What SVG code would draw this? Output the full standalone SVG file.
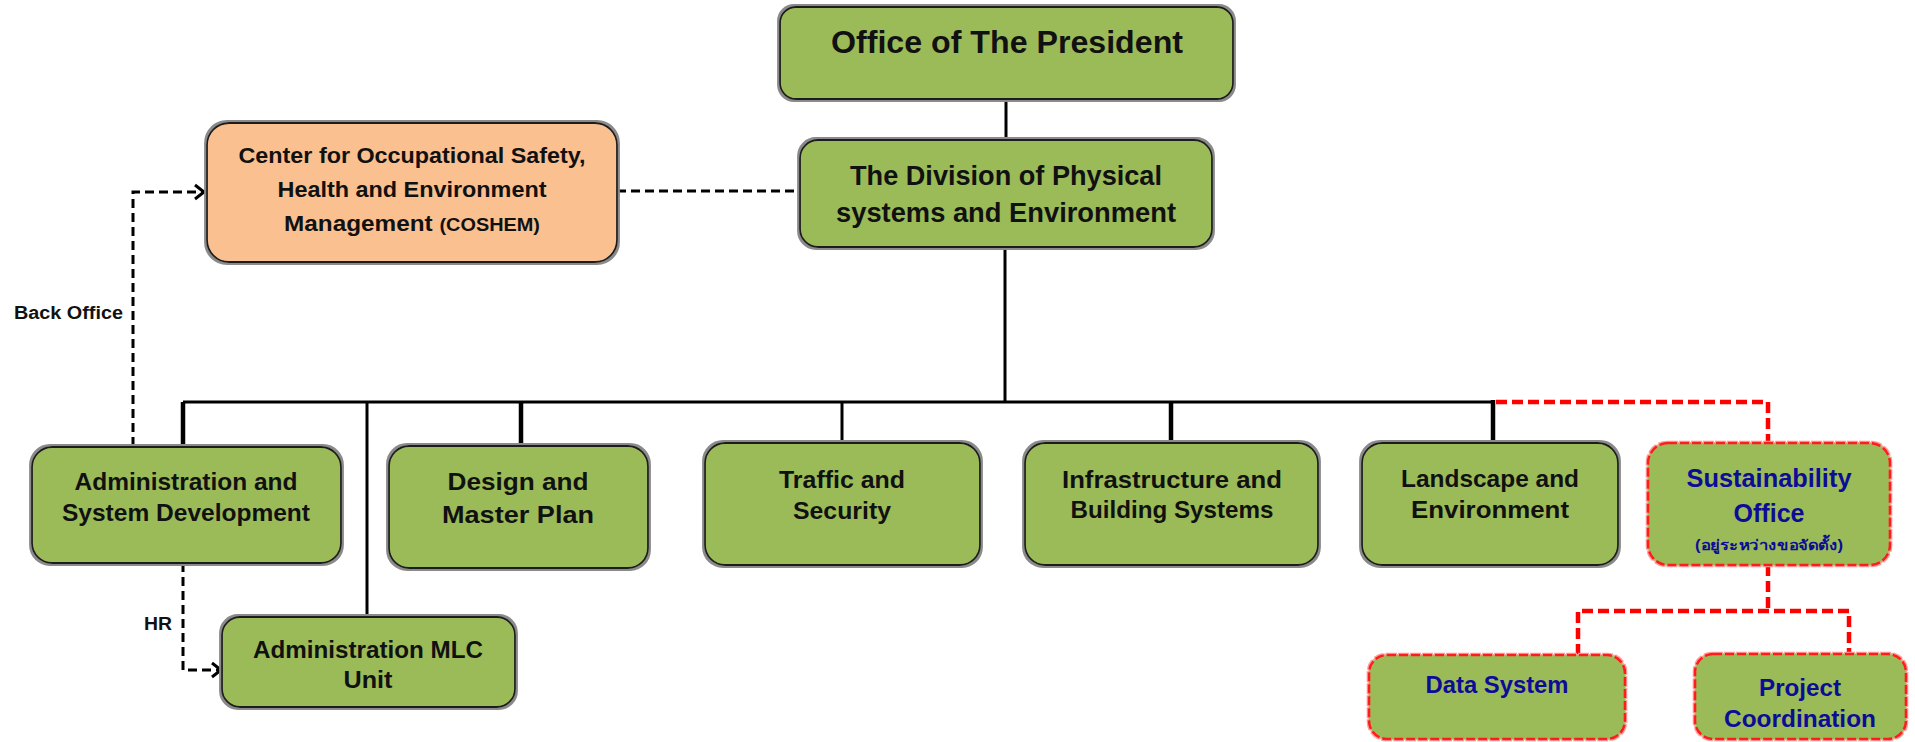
<svg xmlns="http://www.w3.org/2000/svg" width="1915" height="742" viewBox="0 0 1915 742">
  <style>
    .box { fill: #9bbb59; stroke: #1f1f1f; stroke-width: 1.8; filter: url(#halo); }
    .orange { fill: #fac090; }
    .pend { fill: #9bbb59; stroke: #ff1a1a; stroke-width: 2.6; stroke-dasharray: 9 3; filter: url(#pinkhalo); }
    .t { font-family: "Liberation Sans", Arial, sans-serif; font-weight: bold; fill: #111; text-anchor: middle; }
    .blue { fill: #0c0c96; }
    .lbl { font-family: "Liberation Sans", Arial, sans-serif; font-weight: bold; font-size: 18px; fill: #111; }
    .solid { fill: none; stroke: #000; stroke-width: 3; }
    .thick { fill: none; stroke: #000; stroke-width: 4.5; }
    .dash { fill: none; stroke: #000; stroke-width: 3; stroke-dasharray: 9 5; }
    .rdash { fill: none; stroke: #ff0000; stroke-width: 4.5; stroke-dasharray: 11 5; }
  </style>
  <defs>
    <filter id="halo" x="-5%" y="-5%" width="110%" height="110%">
      <feMorphology in="SourceAlpha" operator="dilate" radius="1.6" result="d"/>
      <feFlood flood-color="#8a8a8a"/>
      <feComposite in2="d" operator="in" result="h"/>
      <feMerge><feMergeNode in="h"/><feMergeNode in="SourceGraphic"/></feMerge>
    </filter>
    <filter id="pinkhalo" x="-5%" y="-5%" width="110%" height="110%">
      <feMorphology in="SourceAlpha" operator="dilate" radius="1.4" result="d"/>
      <feFlood flood-color="#ff9c9c"/>
      <feComposite in2="d" operator="in" result="h"/>
      <feMerge><feMergeNode in="h"/><feMergeNode in="SourceGraphic"/></feMerge>
    </filter>
    <marker id="open" markerUnits="userSpaceOnUse" markerWidth="14" markerHeight="18" refX="10" refY="8" orient="auto" overflow="visible">
      <path d="M1,1 L10,8 L1,15" fill="none" stroke="#000" stroke-width="3" stroke-dasharray="none"/>
    </marker>
  </defs>

  <!-- connectors -->
  <g id="connectors">
    <path class="solid" d="M1006,99 L1006,140"/>
    <path class="solid" d="M1005,247 L1005,402"/>
    <path class="solid" d="M183,402 L1493,402"/>
    <path class="thick" d="M183,402 L183,447"/>
    <path class="solid" d="M367,402 L367,617"/>
    <path class="thick" d="M521,402 L521,446"/>
    <path class="solid" d="M842,402 L842,443"/>
    <path class="thick" d="M1171,402 L1171,443"/>
    <path class="thick" d="M1493,400 L1493,443"/>
    <path class="dash" d="M617,191 L800,191"/>
    <path class="dash" d="M133,446 L133,192 L204,192" marker-end="url(#open)"/>
    <path class="dash" d="M183,563 L183,670 L221,670" marker-end="url(#open)"/>
    <path class="rdash" d="M1496,402 L1768,402 L1768,443"/>
    <path class="rdash" d="M1768,565 L1768,611"/>
    <path class="rdash" d="M1578,655 L1578,611 L1849,611 L1849,654"/>
    <text class="lbl" x="14" y="319" textLength="109" lengthAdjust="spacingAndGlyphs">Back Office</text>
    <text class="lbl" x="144" y="630" textLength="28" lengthAdjust="spacingAndGlyphs">HR</text>
  </g>

  <g id="president">
    <rect class="box" x="780" y="7" width="453" height="92" rx="16"/>
    <text class="t" x="1007" y="53" font-size="31" textLength="352" lengthAdjust="spacingAndGlyphs">Office of The President</text>
  </g>

  <g id="division">
    <rect class="box" x="800" y="140" width="412" height="107" rx="18"/>
    <text class="t" x="1006" y="185" font-size="28" textLength="312" lengthAdjust="spacingAndGlyphs">The Division of Physical</text>
    <text class="t" x="1006" y="222" font-size="28" textLength="340" lengthAdjust="spacingAndGlyphs">systems and Environment</text>
  </g>

  <g id="coshem">
    <rect class="box orange" x="207" y="123" width="410" height="139" rx="22"/>
    <text class="t" x="412" y="163" font-size="22" textLength="347" lengthAdjust="spacingAndGlyphs">Center for Occupational Safety,</text>
    <text class="t" x="412" y="197" font-size="22" textLength="269" lengthAdjust="spacingAndGlyphs">Health and Environment</text>
    <text class="t" x="412" y="231" font-size="22" textLength="256" lengthAdjust="spacingAndGlyphs">Management <tspan font-size="18">(COSHEM)</tspan></text>
  </g>

  <g id="admin-system">
    <rect class="box" x="32" y="447" width="309" height="116" rx="20"/>
    <text class="t" x="186" y="490" font-size="24" textLength="223" lengthAdjust="spacingAndGlyphs">Administration and</text>
    <text class="t" x="186" y="521" font-size="24" textLength="248" lengthAdjust="spacingAndGlyphs">System Development</text>
  </g>

  <g id="design">
    <rect class="box" x="389" y="446" width="259" height="122" rx="20"/>
    <text class="t" x="518" y="490" font-size="24" textLength="141" lengthAdjust="spacingAndGlyphs">Design and</text>
    <text class="t" x="518" y="523" font-size="24" textLength="152" lengthAdjust="spacingAndGlyphs">Master Plan</text>
  </g>

  <g id="traffic">
    <rect class="box" x="705" y="443" width="275" height="122" rx="20"/>
    <text class="t" x="842" y="488" font-size="24" textLength="126" lengthAdjust="spacingAndGlyphs">Traffic and</text>
    <text class="t" x="842" y="519" font-size="24" textLength="98" lengthAdjust="spacingAndGlyphs">Security</text>
  </g>

  <g id="infrastructure">
    <rect class="box" x="1025" y="443" width="293" height="122" rx="20"/>
    <text class="t" x="1172" y="488" font-size="24" textLength="220" lengthAdjust="spacingAndGlyphs">Infrastructure and</text>
    <text class="t" x="1172" y="518" font-size="24" textLength="203" lengthAdjust="spacingAndGlyphs">Building Systems</text>
  </g>

  <g id="landscape">
    <rect class="box" x="1362" y="443" width="256" height="122" rx="20"/>
    <text class="t" x="1490" y="487" font-size="24" textLength="178" lengthAdjust="spacingAndGlyphs">Landscape and</text>
    <text class="t" x="1490" y="518" font-size="24" textLength="158" lengthAdjust="spacingAndGlyphs">Environment</text>
  </g>

  <g id="sustainability">
    <rect class="pend" x="1648" y="443" width="242" height="122" rx="20"/>
    <text class="t blue" x="1769" y="487" font-size="25" textLength="165" lengthAdjust="spacingAndGlyphs">Sustainability</text>
    <text class="t blue" x="1769" y="522" font-size="25" textLength="71" lengthAdjust="spacingAndGlyphs">Office</text>
    <text class="t blue" x="1769" y="550" font-size="14" font-family="'Noto Sans Thai', 'Noto Sans', 'DejaVu Sans', sans-serif" textLength="148" lengthAdjust="spacingAndGlyphs">(อยู่ระหว่างขอจัดตั้ง)</text>
  </g>

  <g id="admin-mlc">
    <rect class="box" x="222" y="617" width="293" height="90" rx="18"/>
    <text class="t" x="368" y="658" font-size="24" textLength="230" lengthAdjust="spacingAndGlyphs">Administration MLC</text>
    <text class="t" x="368" y="688" font-size="24" textLength="49" lengthAdjust="spacingAndGlyphs">Unit</text>
  </g>

  <g id="data-system">
    <rect class="pend" x="1369" y="655" width="256" height="84" rx="18"/>
    <text class="t blue" x="1497" y="693" font-size="24" textLength="143" lengthAdjust="spacingAndGlyphs">Data System</text>
  </g>

  <g id="project-coordination">
    <rect class="pend" x="1695" y="654" width="211" height="85" rx="18"/>
    <text class="t blue" x="1800" y="696" font-size="24" textLength="82" lengthAdjust="spacingAndGlyphs">Project</text>
    <text class="t blue" x="1800" y="727" font-size="24" textLength="152" lengthAdjust="spacingAndGlyphs">Coordination</text>
  </g>
</svg>
